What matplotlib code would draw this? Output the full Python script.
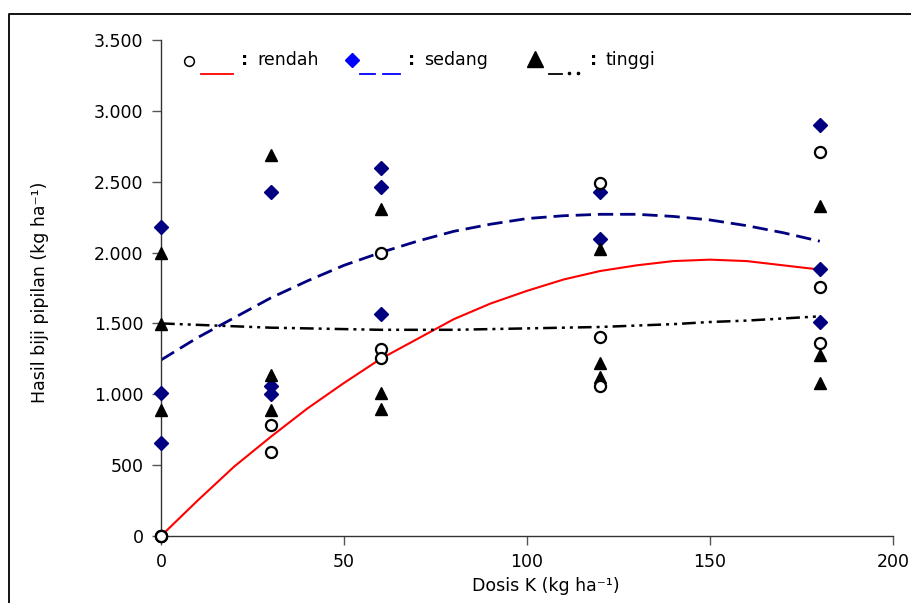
import numpy as np
import matplotlib
matplotlib.use("Agg")
import matplotlib.pyplot as plt
from matplotlib.lines import Line2D

plt.rcParams['font.family'] = ['DejaVu Sans']

# data
dosis_rendah = [0, 0, 0, 30, 30, 60, 60, 60, 120, 120, 120, 180, 180, 180]
hasil_rendah = [0, 0, 0, 783, 595, 1997, 1319, 1256, 2491, 1404, 1058, 2710, 1757, 1362]

dosis_sedang = [0, 0, 0, 30, 30, 30, 60, 60, 60, 120, 120, 180, 180, 180]
hasil_sedang = [2182, 1011, 654, 2429, 1058, 1002, 2597, 2462, 1566, 2427, 2096, 2900, 1884, 1510]

dosis_tinggi = [0, 0, 0, 30, 30, 30, 60, 60, 60, 120, 120, 120, 180, 180, 180]
hasil_tinggi = [1997, 1496, 889, 2688, 1136, 889, 2307, 1009, 896, 2025, 1221, 1122, 2328, 1277, 1079]

# fitted curves, read every 10 kg
x_kurva = [0, 10, 20, 30, 40, 50, 60, 70, 80, 90, 100, 110, 120, 130, 140, 150, 160, 170, 180]
kurva_rendah = [0, 250, 490, 700, 900, 1080, 1250, 1390, 1530, 1640, 1730, 1810, 1870, 1910, 1940, 1950, 1940, 1910, 1880]
kurva_sedang = [1242, 1400, 1540, 1680, 1800, 1910, 2000, 2080, 2150, 2200, 2240, 2260, 2270, 2270, 2255, 2230, 2190, 2140, 2080]
kurva_tinggi = [1500, 1490, 1480, 1470, 1465, 1460, 1455, 1455, 1455, 1460, 1465, 1470, 1475, 1485, 1495, 1510, 1520, 1535, 1550]

yticks = [0, 500, 1000, 1500, 2000, 2500, 3000, 3500]
ytick_labels = ['0', '500', '1.000', '1.500', '2.000', '2.500', '3.000', '3.500']
xticks = [0, 50, 100, 150, 200]

W, H = 911, 603
fig = plt.figure(figsize=(W / 100, H / 100), dpi=100)
ax = fig.add_axes([161 / W, 1 - 536 / H, (893 - 161) / W, (536 - 40) / H])

def px(x, y):
    return x / W, 1 - y / H

# curves
ax.plot(x_kurva, kurva_rendah, color='#ff0000', lw=1.5, zorder=2)
ax.plot(x_kurva, kurva_sedang, color='#000080', lw=2, linestyle=(0, (5.5, 2.5)), zorder=2)
ax.plot(x_kurva, kurva_tinggi, color='black', lw=1.8, linestyle=(0, (5.5, 2, 1.2, 2, 1.2, 2)), zorder=2)

# points
ax.plot(dosis_sedang, hasil_sedang, 'D', color='#000080', ms=7, mec='#000080', ls='none', clip_on=False, zorder=3)
ax.plot(dosis_tinggi, hasil_tinggi, '^', color='black', ms=9, ls='none', clip_on=False, zorder=3)
ax.plot(dosis_rendah, hasil_rendah, 'o', mfc='white', mec='black', mew=1.6, ms=8, ls='none', clip_on=False, zorder=4)

ax.set_xlim(0, 200)
ax.set_ylim(0, 3500)
ax.set_xticks(xticks)
ax.set_yticks(yticks)
ax.set_yticklabels(ytick_labels)
for s in ['top', 'right']:
    ax.spines[s].set_visible(False)
for s in ['left', 'bottom']:
    ax.spines[s].set_color('#333333')
    ax.spines[s].set_linewidth(1.0)
ax.tick_params(direction='out', length=6.5, width=1, color='#555555', labelsize=12.5, pad=6)

fig.text(*px(40, 292), 'Hasil biji pipilan (kg ha⁻¹)', rotation=90, ha='center', va='center', fontsize=12.5)
fig.text(*px(546, 586), 'Dosis K (kg ha⁻¹)', ha='center', va='center', fontsize=12.5)

# legend made of pieces
fig.add_artist(Line2D([189 / W], [1 - 61 / H], marker='o', mfc='white', mec='black', mew=1.1, ms=7))
fig.add_artist(Line2D([201 / W, 233 / W], [1 - 74 / H] * 2, color='#ff0000', lw=1.3))
fig.text(*px(245, 60), ':', ha='center', va='center', fontsize=13, fontweight='bold')
fig.text(*px(257, 60), 'rendah', ha='left', va='center', fontsize=12.5)

fig.add_artist(Line2D([352 / W], [1 - 60 / H], marker='D', color='#0000ff', ms=7.5))
fig.add_artist(Line2D([360 / W, 375 / W], [1 - 74 / H] * 2, color='#0000ff', lw=1.3))
fig.add_artist(Line2D([383 / W, 400 / W], [1 - 74 / H] * 2, color='#0000ff', lw=1.3))
fig.text(*px(412, 60), ':', ha='center', va='center', fontsize=13, fontweight='bold')
fig.text(*px(424, 60), 'sedang', ha='left', va='center', fontsize=12.5)

fig.add_artist(Line2D([535 / W], [1 - 59 / H], marker='^', color='black', ms=12))
fig.add_artist(Line2D([549 / W, 562 / W], [1 - 74 / H] * 2, color='black', lw=1.3))
fig.add_artist(Line2D([569 / W, 578 / W], [1 - 73 / H] * 2, marker='o', ls='none', color='black', ms=1.6))
fig.text(*px(594, 60), ':', ha='center', va='center', fontsize=13, fontweight='bold')
fig.text(*px(606, 60), 'tinggi', ha='left', va='center', fontsize=12.5)

# outer frame (top and left)
fig.add_artist(Line2D([9 / W, 9 / W, 1.0], [0.0, 1 - 14 / H, 1 - 14 / H], color='black', lw=1.3))

fig.savefig('out.png', dpi=100)
